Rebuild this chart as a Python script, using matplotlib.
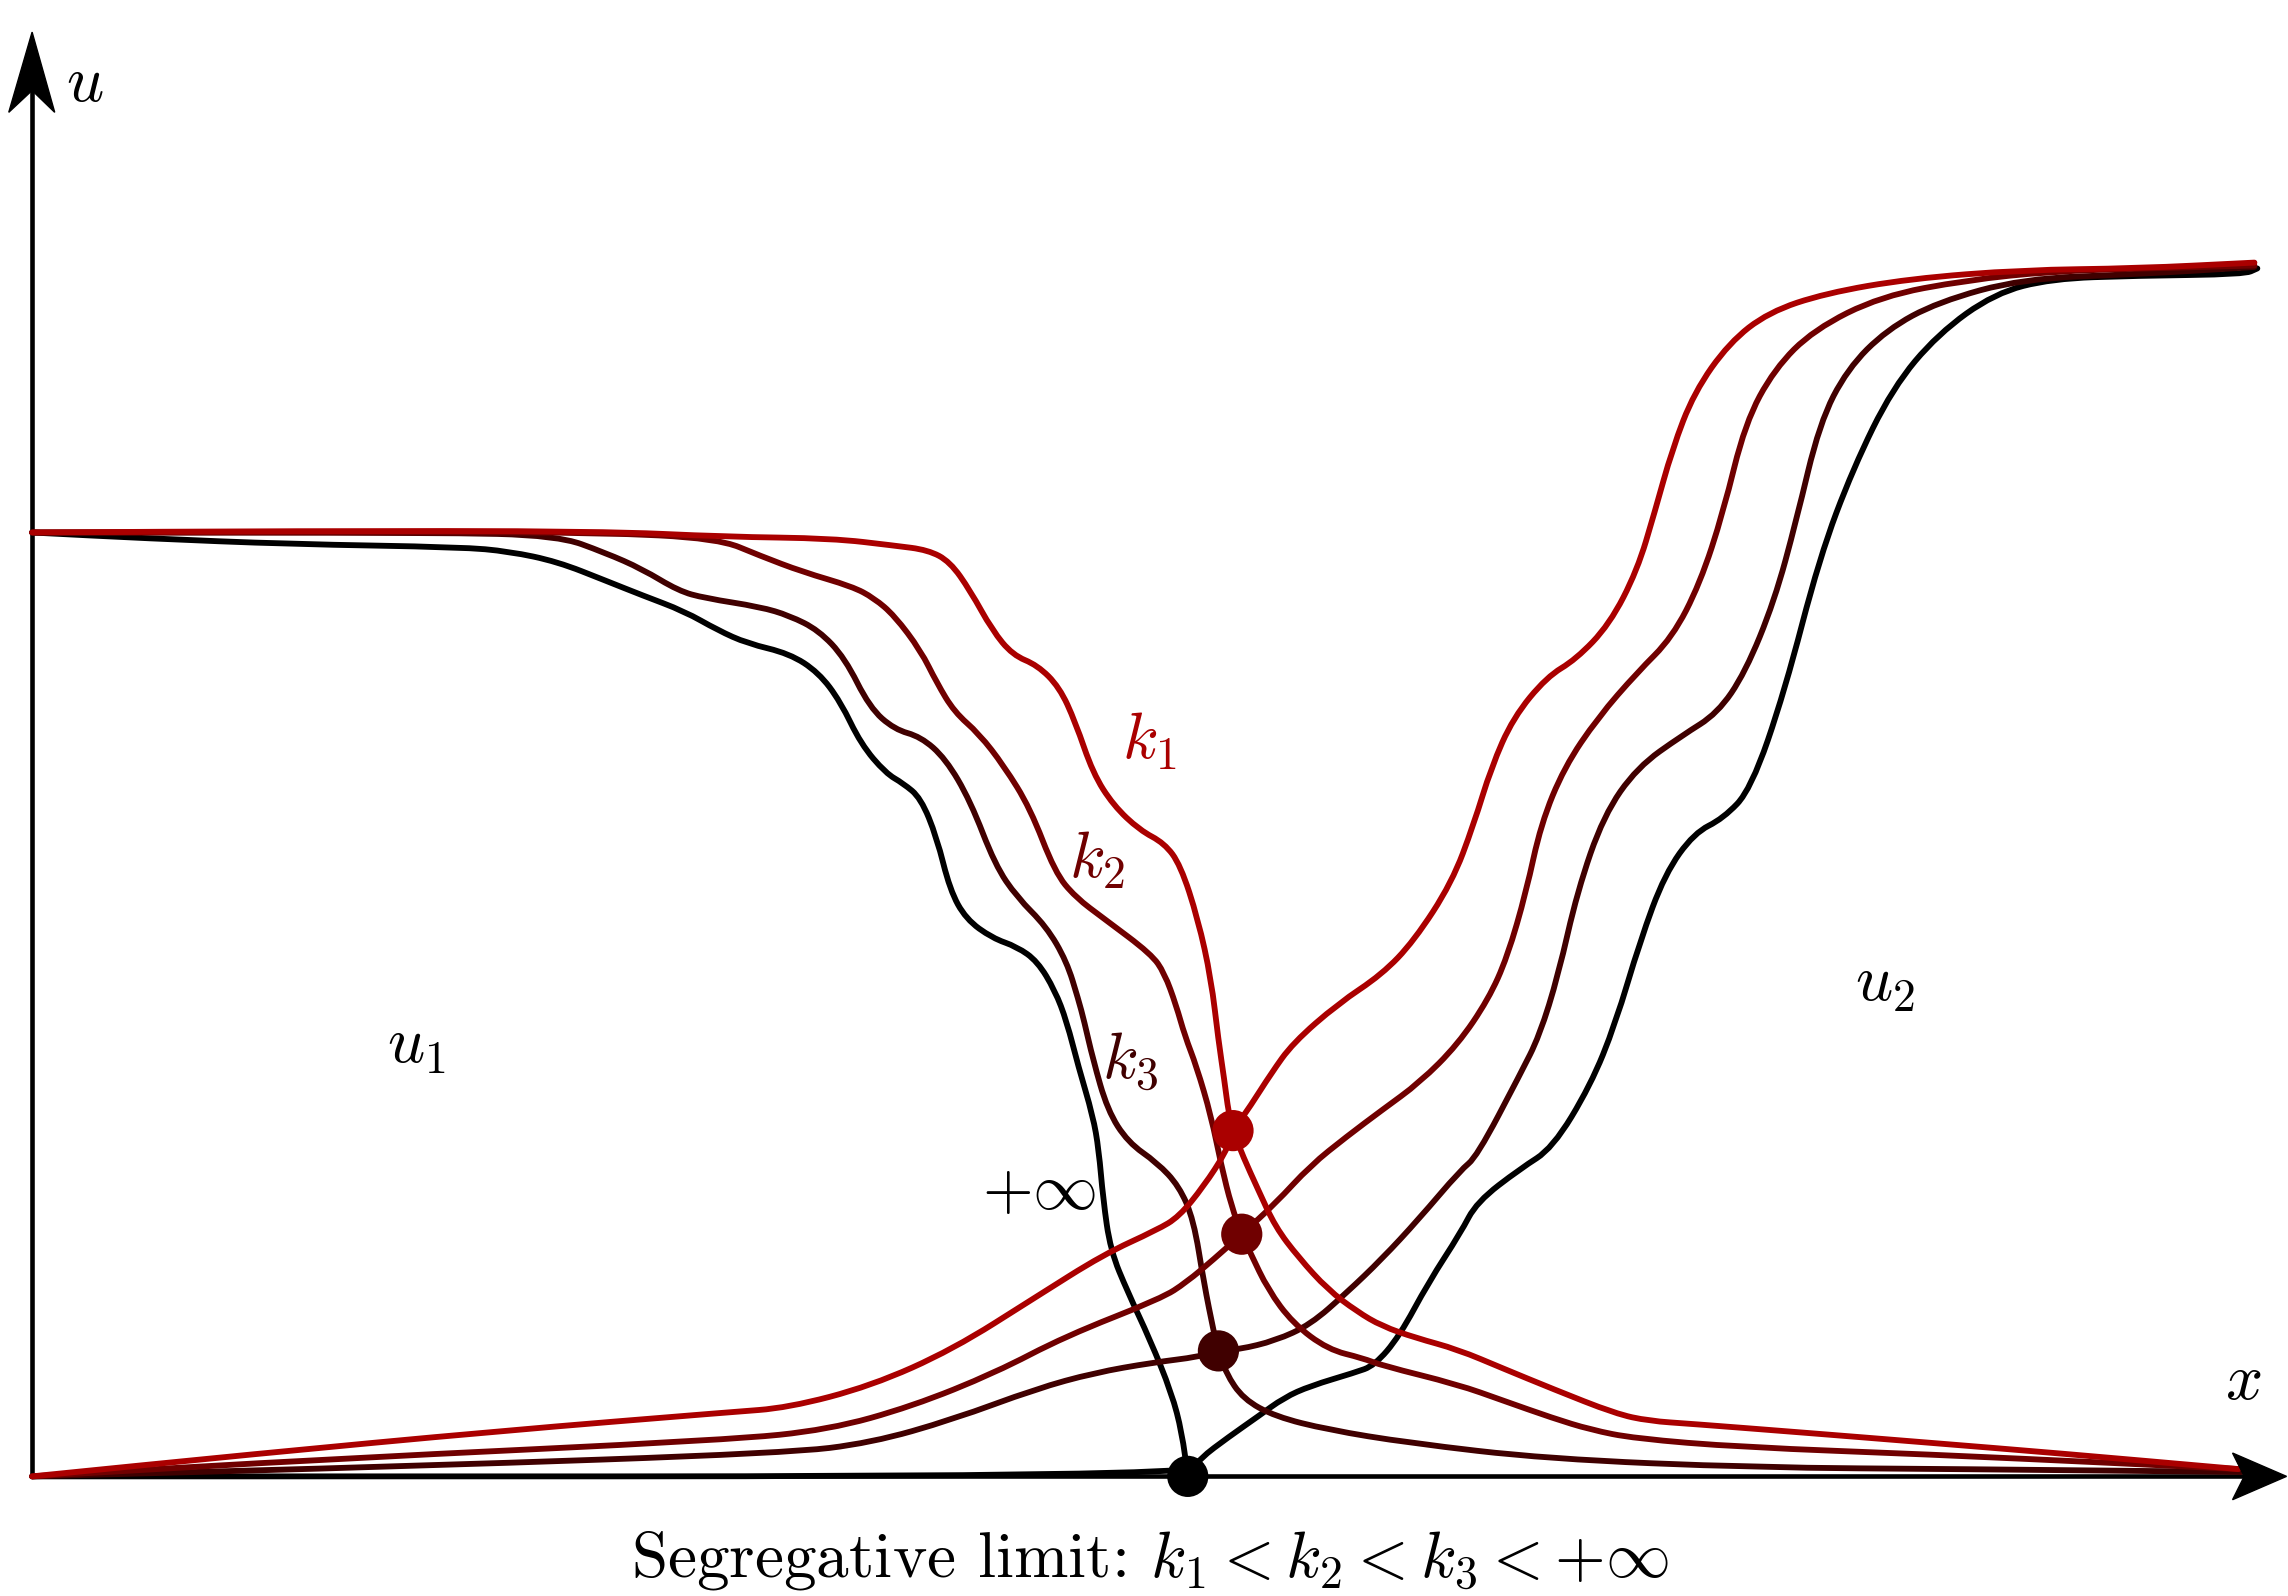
import matplotlib
matplotlib.use("Agg")
import matplotlib.pyplot as plt
from matplotlib.patches import Polygon, PathPatch
from matplotlib.path import Path

plt.rcParams['mathtext.fontset'] = 'cm'
plt.rcParams['font.family'] = ['cmr10', 'DejaVu Sans']

# ---- data (x position, u value) ----
series_names = ['inf', 'k3', 'k2', 'k1']
series_colors = ['#000000', '#400000', '#700000', '#aa0000']

u1_inf_x = [0, 78, 177, 294, 327, 360, 393, 418, 447, 470, 490, 519, 539, 554, 568, 585, 597, 609, 620, 629, 640, 658, 675, 689, 701, 709, 717, 727, 731, 734, 739, 751, 766, 781, 788, 792]
u1_inf_u = [647, 643, 639, 637, 634, 627, 614, 604, 593, 580, 571, 564, 551, 531, 502, 482, 475, 465, 438, 402, 382, 369, 363, 353, 333, 312, 281, 247, 224, 190, 155, 126, 94, 57, 30, 0]

u2_inf_x = [0, 792, 800, 820, 840, 858, 876, 906, 920, 937, 957, 979, 990, 1020, 1042, 1068, 1085, 1102, 1119, 1139, 1159, 1178, 1201, 1225, 1248, 1275, 1306, 1345, 1384, 1442, 1516, 1525]
u2_inf_u = [0, 0, 12, 27, 41, 54, 62, 71, 76, 96, 133, 167, 188, 211, 225, 268, 310, 367, 413, 441, 451, 471, 538, 630, 691, 746, 783, 811, 821, 823, 824, 828]

u1_k1_x = [0, 178, 389, 476, 548, 591, 614, 629, 643, 658, 672, 689, 704, 715, 727, 741, 759, 776, 787, 799, 808, 813, 817, 820, 823, 830, 840, 852, 868, 888, 908, 925, 948, 977, 1008, 1042, 1085, 1108, 1137, 1214, 1301, 1387, 1512]
u1_k1_u = [647, 648, 648, 644, 643, 638, 635, 627, 607, 580, 563, 556, 541, 517, 482, 460, 443, 434, 419, 382, 341, 299, 272, 249, 237, 219, 197, 171, 150, 128, 113, 103, 95, 87, 74, 60, 43, 38, 36, 30, 23, 16, 5]

u2_k1_x = [0, 149, 319, 478, 518, 575, 631, 688, 734, 771, 786, 803, 818, 823, 835, 849, 864, 895, 925, 947, 973, 988, 1000, 1015, 1038, 1058, 1081, 1100, 1112, 1124, 1139, 1163, 1190, 1229, 1287, 1364, 1442, 1523]
u2_k1_u = [0, 15, 31, 44, 47, 62, 87, 123, 152, 169, 178, 199, 222, 237, 254, 276, 297, 324, 344, 367, 407, 447, 486, 520, 548, 560, 584, 621, 661, 704, 743, 777, 798, 811, 821, 827, 828, 832]

u1_k2_x = [0, 278, 389, 470, 499, 528, 562, 577, 591, 609, 620, 632, 649, 666, 684, 701, 715, 735, 767, 776, 784, 790, 798, 808, 815, 822, 829, 835, 847, 864, 888, 912, 925, 977, 1008, 1042, 1068, 1098, 1171, 1301, 1430, 1512]
u1_k2_u = [647, 647, 647, 643, 631, 620, 610, 602, 590, 566, 544, 524, 509, 487, 458, 414, 397, 382, 358, 345, 323, 302, 281, 247, 213, 185, 166, 153, 128, 105, 87, 81, 76, 63, 52, 40, 32, 26, 20, 15, 9, 5]

u2_k2_x = [0, 205, 478, 546, 603, 660, 708, 774, 791, 810, 829, 852, 876, 901, 925, 951, 977, 998, 1011, 1024, 1034, 1050, 1073, 1100, 1124, 1143, 1159, 1174, 1194, 1221, 1267, 1326, 1384, 1448, 1523]
u2_k2_u = [0, 12, 25, 32, 48, 71, 96, 122, 133, 149, 166, 187, 213, 233, 251, 270, 296, 327, 356, 401, 447, 486, 520, 551, 575, 612, 661, 722, 759, 786, 809, 820, 826, 828, 830]

u1_k3_x = [0, 278, 360, 393, 418, 443, 461, 499, 519, 539, 557, 574, 591, 609, 626, 643, 660, 675, 695, 709, 717, 721, 727, 737, 751, 771, 786, 796, 803, 810, 813, 818, 830, 852, 888, 943, 1038, 1181, 1323, 1514]
u1_k3_u = [647, 647, 645, 633, 622, 607, 602, 596, 590, 580, 561, 527, 512, 507, 492, 463, 419, 397, 377, 353, 327, 312, 286, 251, 229, 215, 199, 176, 133, 98, 86, 71, 53, 41, 32, 23, 12, 6, 5, 3]

u2_k3_x = [0, 262, 518, 575, 631, 688, 728, 768, 800, 813, 827, 852, 876, 901, 925, 950, 979, 990, 1020, 1033, 1046, 1059, 1077, 1100, 1131, 1155, 1174, 1194, 1209, 1225, 1244, 1271, 1306, 1364, 1442, 1523]
u2_k3_u = [0, 7, 16, 23, 39, 60, 71, 78, 82, 86, 87, 93, 104, 126, 149, 176, 210, 219, 276, 302, 344, 401, 453, 486, 508, 523, 551, 600, 655, 722, 759, 786, 805, 821, 824, 829]

dot_x = [792, 813, 829, 823]
dot_u = [0, 86, 166, 237]

label_texts = [r'$k_1$', r'$k_2$', r'$k_3$', r'$+\infty$']
label_x = [766, 730, 753, 690]
label_u = [504, 422, 284, 194]
label_colors = ['#aa0000', '#700000', '#400000', '#000000']


def smooth_path(xs, us):
    """Quadratic B-spline style path: the read points act as control points."""
    pts = list(zip(xs, us))
    verts = [pts[0]]
    codes = [Path.MOVETO]
    if len(pts) > 2:
        m = ((pts[0][0] + pts[1][0]) / 2, (pts[0][1] + pts[1][1]) / 2)
        verts.append(m)
        codes.append(Path.LINETO)
        for i in range(1, len(pts) - 1):
            m = ((pts[i][0] + pts[i + 1][0]) / 2, (pts[i][1] + pts[i + 1][1]) / 2)
            verts += [pts[i], m]
            codes += [Path.CURVE3, Path.CURVE3]
    verts.append(pts[-1])
    codes.append(Path.LINETO)
    return Path(verts, codes)


# ---- figure ----
fig = plt.figure(figsize=(22.88, 15.96), dpi=100)
ax = fig.add_axes([0, 0, 1, 1])
ax.set_xlim(-22, 1546)
ax.set_ylim(-82, 1012)
ax.axis('off')

# axes lines with arrow heads
ax.plot([0, 0], [0, 955], color='black', lw=3.3, solid_capstyle='butt', zorder=1)
ax.plot([0, 1518], [0, 0], color='black', lw=3.3, solid_capstyle='butt', zorder=1)
ax.add_patch(Polygon([[0, 990], [-16, 935], [0, 950], [15.5, 935]], closed=True,
                     facecolor='black', edgecolor='black', lw=1, zorder=6))
ax.add_patch(Polygon([[1545, 0], [1508, 16], [1516, 0], [1508, -16]], closed=True,
                     facecolor='black', edgecolor='black', lw=1, zorder=6))

curves = {
    'inf': [(u1_inf_x, u1_inf_u), (u2_inf_x, u2_inf_u)],
    'k3': [(u1_k3_x, u1_k3_u), (u2_k3_x, u2_k3_u)],
    'k2': [(u1_k2_x, u1_k2_u), (u2_k2_x, u2_k2_u)],
    'k1': [(u1_k1_x, u1_k1_u), (u2_k1_x, u2_k1_u)],
}
for i, (name, col) in enumerate(zip(series_names, series_colors)):
    for xs, us in curves[name]:
        patch = PathPatch(smooth_path(xs, us), facecolor='none', edgecolor=col,
                          lw=4.2, capstyle='round', joinstyle='round',
                          zorder=2 + i * 0.1)
        ax.add_patch(patch)

ax.scatter(dot_x, dot_u, s=880, c=series_colors, zorder=5, linewidths=0)

fs = 47
for t, x, y, c in zip(label_texts, label_x, label_u, label_colors):
    ax.text(x, y, t, color=c, fontsize=fs, ha='center', va='center')

ax.text(36, 954, r'$u$', fontsize=fs, ha='center', va='center')
ax.text(263, 294, r'$u_1$', fontsize=fs, ha='center', va='center')
ax.text(1270, 337, r'$u_2$', fontsize=fs, ha='center', va='center')
ax.text(1515, 64, r'$x$', fontsize=fs, ha='center', va='center')
ax.text(766, -58, r'Segregative limit: $k_1 < k_2 < k_3 < +\infty$',
        fontsize=fs, ha='center', va='center')

fig.savefig('out.png', dpi=100)
